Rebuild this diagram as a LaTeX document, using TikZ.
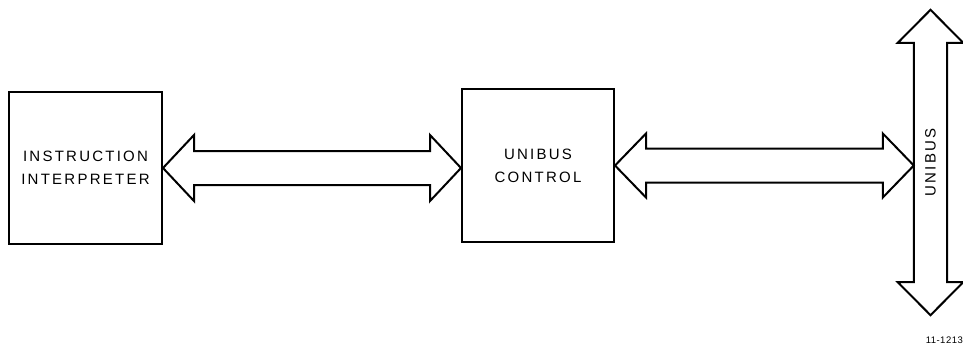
\documentclass[tikz,border=0pt]{standalone}
\usepackage{fontspec}
\setmainfont{Liberation Sans}
\newfontfamily\lblfont[LetterSpace=15]{Liberation Sans}
\newfontfamily\tagfont[LetterSpace=5]{Liberation Sans}
\usetikzlibrary{calc}
\begin{document}
\begin{tikzpicture}[x=1pt,y=-1pt,
  blockbox/.style={draw,line width=2pt,inner sep=0pt,align=center,font=\fontsize{15}{23}\lblfont},
  fatarrow/.style={draw,line width=2pt,line join=miter},
  buslabel/.style={font=\fontsize{15}{16}\lblfont,rotate=90,inner sep=0pt},
  tag/.style={font=\fontsize{9.5}{10}\tagfont,inner sep=0pt,anchor=east}]
\useasboundingbox (0,0) rectangle (963,346);
\node[blockbox,minimum width=153pt,minimum height=152pt] (ii) at (85.5,168) {INSTRUCTION\\INTERPRETER};
\node[blockbox,minimum width=152pt,minimum height=153pt] (uc) at (538,165.5) {UNIBUS\\CONTROL};
\node[inner sep=0pt,minimum width=33pt,minimum height=239pt] (bus) at (930.5,162.5) {};
\node[buslabel] (buslbl) at (bus.center) {UNIBUS};
% bus outline
\draw[fatarrow] (bus.north west) -- ++(-16pt,0) -- ($(bus.north)+(0,33pt)$) -- ($(bus.north east)+(16pt,0)$) -- (bus.north east)
  -- (bus.south east) -- ++(16pt,0) -- ($(bus.south)+(0,-33pt)$) -- ($(bus.south west)+(-16pt,0)$) -- (bus.south west) -- cycle;
% arrow between instruction interpreter and unibus control
\coordinate (a1) at (ii.east);
\coordinate (a2) at (uc.west |- ii.east);
\draw[fatarrow] (a1) -- ($(a1)+(31pt,33pt)$) -- ($(a1)+(31pt,17pt)$) -- ($(a2)+(-31pt,17pt)$) -- ($(a2)+(-31pt,33pt)$) -- (a2)
  -- ($(a2)+(-31pt,-33pt)$) -- ($(a2)+(-31pt,-17pt)$) -- ($(a1)+(31pt,-17pt)$) -- ($(a1)+(31pt,-33pt)$) -- cycle;
% arrow between unibus control and bus
\coordinate (b1) at (uc.east);
\coordinate (b2) at (bus.west |- uc.east);
\draw[fatarrow] (b1) -- ($(b1)+(31pt,32pt)$) -- ($(b1)+(31pt,17pt)$) -- ($(b2)+(-31pt,17pt)$) -- ($(b2)+(-31pt,32pt)$) -- (b2)
  -- ($(b2)+(-31pt,-32pt)$) -- ($(b2)+(-31pt,-17pt)$) -- ($(b1)+(31pt,-17pt)$) -- ($(b1)+(31pt,-32pt)$) -- cycle;
\node[tag] (num) at (963,340) {11-1213};
\end{tikzpicture}
\end{document}
